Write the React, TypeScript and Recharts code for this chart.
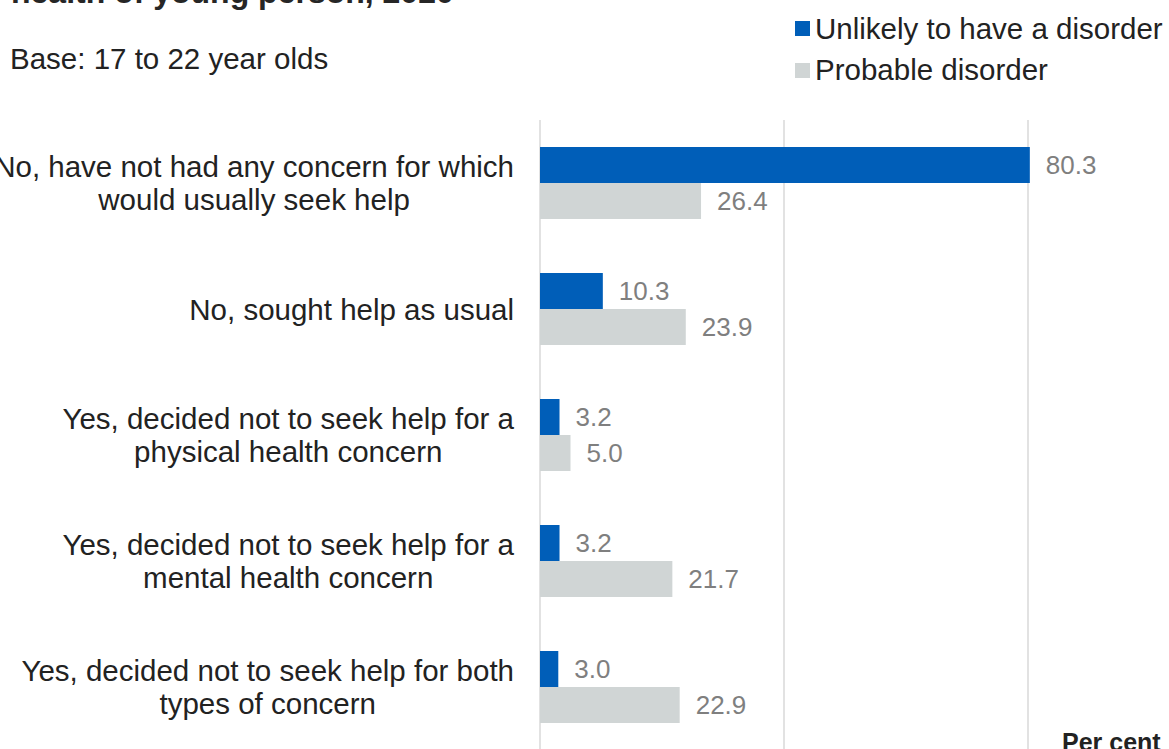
import React from 'react';
import { BarChart, Bar, XAxis, YAxis, CartesianGrid, LabelList } from 'recharts';

const categories = [
  'No, have not had any concern for which\nwould usually seek help',
  'No, sought help as usual',
  'Yes, decided not to seek help for a\nphysical health concern',
  'Yes, decided not to seek help for a\nmental health concern',
  'Yes, decided not to seek help for both\ntypes of concern',
];
const unlikelyValues = [80.3, 10.3, 3.2, 3.2, 3.0];
const probableValues = [26.4, 23.9, 5.0, 21.7, 22.9];
const seriesNames = ['Unlikely to have a disorder', 'Probable disorder'];
const seriesColors = ['#005EB8', '#D0D5D5'];
const xTicks = [0, 40, 80];
const titleText = 'health of young person, 2020';
const baseText = 'Base: 17 to 22 year olds';
const axisTitle = 'Per cent';

const data = categories.map((c, i) => ({
  category: c,
  unlikely: unlikelyValues[i],
  probable: probableValues[i],
}));

const FONT = '"Liberation Sans", Arial, Helvetica, sans-serif';
const CAT_SIZE = 29.5;

let measureCtx: CanvasRenderingContext2D | null = null;
function measure(text: string, size: number): number {
  if (!measureCtx) measureCtx = document.createElement('canvas').getContext('2d');
  if (!measureCtx) return text.length * size * 0.5;
  measureCtx.font = `${size}px "Liberation Sans", Arial, sans-serif`;
  return measureCtx.measureText(text).width;
}

const CategoryTick = (props: any) => {
  const { x, y, payload } = props;
  const lines = String(payload.value).split('\n');
  const maxW = Math.max(...lines.map((l) => measure(l, CAT_SIZE)));
  const cx = x - maxW / 2;
  const lh = 33;
  const startY = y - ((lines.length - 1) * lh) / 2;
  return (
    <g>
      {lines.map((l, i) => (
        <text
          key={i}
          x={cx}
          y={startY + i * lh}
          textAnchor="middle"
          dominantBaseline="central"
          fontSize={CAT_SIZE}
          fill="#222222"
          fontFamily={FONT}
        >
          {l}
        </text>
      ))}
    </g>
  );
};

const EmptyTick = () => <g />;

const fmt = (v: any) => Number(v).toFixed(1);

export default function App() {
  return (
    <div
      style={{
        position: 'fixed',
        left: 0,
        top: 0,
        width: 1169,
        height: 749,
        overflow: 'hidden',
        background: '#ffffff',
        fontFamily: FONT,
      }}
    >
      <div
        style={{
          position: 'absolute',
          left: 11,
          top: -24,
          fontSize: 32,
          lineHeight: '32px',
          fontWeight: 'bold',
          color: '#262626',
          whiteSpace: 'nowrap',
        }}
      >
        {titleText}
      </div>
      <div
        style={{
          position: 'absolute',
          left: 10,
          top: 44,
          fontSize: 29.5,
          lineHeight: '29px',
          color: '#222222',
          whiteSpace: 'nowrap',
        }}
      >
        {baseText}
      </div>
      {seriesNames.map((name, i) => (
        <div key={name}>
          <div
            style={{
              position: 'absolute',
              left: 795,
              top: 21 + i * 42,
              width: 15,
              height: 15,
              background: seriesColors[i],
            }}
          />
          <div
            style={{
              position: 'absolute',
              left: 815,
              top: 14 + i * 41,
              fontSize: 29.5,
              lineHeight: '29px',
              color: '#222222',
              whiteSpace: 'nowrap',
            }}
          >
            {name}
          </div>
        </div>
      ))}
      <div
        style={{
          position: 'absolute',
          left: 1062,
          top: 730,
          fontSize: 25,
          lineHeight: '25px',
          fontWeight: 'bold',
          color: '#222222',
          whiteSpace: 'nowrap',
        }}
      >
        {axisTitle}
      </div>
      <div style={{ position: 'absolute', left: 0, top: 0 }}>
        <BarChart
          width={1169}
          height={780}
          data={data}
          layout="vertical"
          margin={{ top: 120, right: 19, bottom: 0, left: 0 }}
          barCategoryGap={27}
          barGap={0}
        >
          <CartesianGrid
            horizontal={false}
            vertical={true}
            stroke="#D9D9D9"
            strokeWidth={1.5}
            verticalValues={xTicks}
          />
          <XAxis
            type="number"
            domain={[0, 100]}
            ticks={xTicks}
            axisLine={false}
            tickLine={false}
            tick={<EmptyTick />}
            height={30}
          />
          <YAxis
            type="category"
            dataKey="category"
            width={540}
            axisLine={false}
            tickLine={false}
            tickSize={0}
            tickMargin={26}
            interval={0}
            tick={<CategoryTick />}
          />
          <Bar dataKey="unlikely" name={seriesNames[0]} fill={seriesColors[0]} barSize={36} isAnimationActive={false}>
            <LabelList
              dataKey="unlikely"
              position="right"
              offset={16}
              fill="#7F7F7F"
              fontSize={26}
              fontFamily={FONT}
              formatter={fmt}
            />
          </Bar>
          <Bar dataKey="probable" name={seriesNames[1]} fill={seriesColors[1]} barSize={36} isAnimationActive={false}>
            <LabelList
              dataKey="probable"
              position="right"
              offset={16}
              fill="#7F7F7F"
              fontSize={26}
              fontFamily={FONT}
              formatter={fmt}
            />
          </Bar>
        </BarChart>
      </div>
    </div>
  );
}
